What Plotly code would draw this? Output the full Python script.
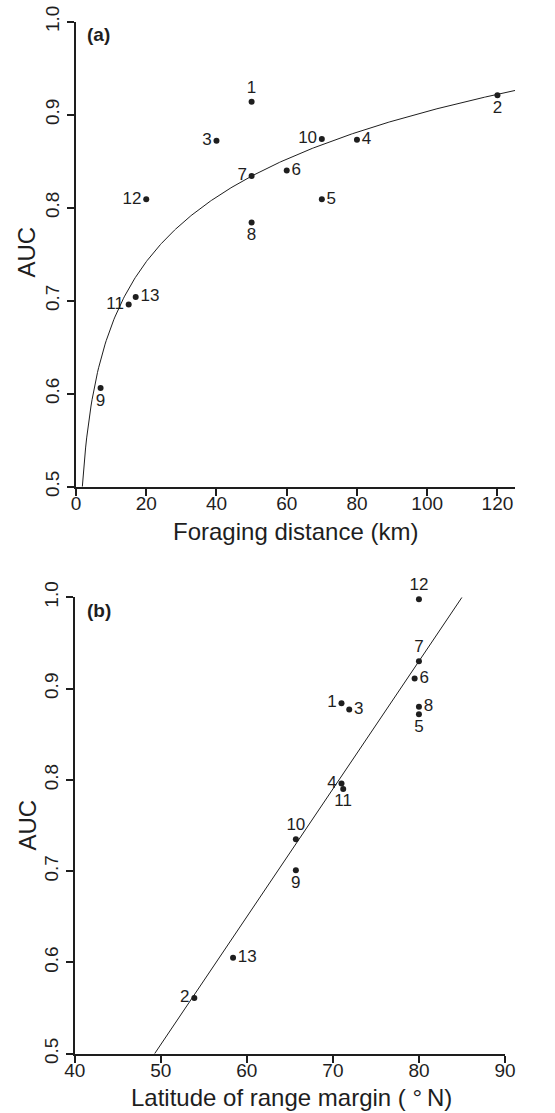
import numpy as np
import plotly.graph_objects as go

# ---------------- data ----------------
species = [str(i) for i in range(1, 14)]

# panel (a): foraging distance (km) vs AUC
foraging_km = [50, 120, 40, 80, 70, 60, 50, 50, 7, 70, 15, 20, 17]
auc_a = [0.914, 0.921, 0.872, 0.873, 0.809, 0.840, 0.834, 0.784, 0.606,
         0.874, 0.696, 0.809, 0.704]
pos_a = ["top center", "bottom center", "middle left", "middle right",
         "middle right", "middle right", "middle left", "bottom center",
         "bottom center", "middle left", "middle left", "middle left",
         "middle right"]

# panel (b): latitude of range margin (deg N) vs AUC
latitude_n = [71.0, 53.9, 71.9, 71.0, 80.0, 79.5, 80.0, 80.0, 65.7, 65.7,
              71.2, 80.0, 58.4]
auc_b = [0.884, 0.561, 0.877, 0.796, 0.872, 0.911, 0.930, 0.880, 0.701,
         0.735, 0.790, 0.998, 0.605]
pos_b = ["middle left", "middle left", "middle right", "middle left",
         "bottom center", "middle right", "top center", "middle right",
         "bottom center", "top center", "bottom center", "top center",
         "middle right"]

# fitted models
log_a, log_b = 0.4408, 0.1005      # AUC = a + b*ln(distance)
lin_a, lin_b = -0.190, 0.014       # AUC = a + b*latitude

x_ticks_a = [0, 20, 40, 60, 80, 100, 120]
x_ticks_b = [40, 50, 60, 70, 80, 90]
y_ticks = [0.5, 0.6, 0.7, 0.8, 0.9, 1.0]

# ---------------- layout helpers ----------------
W, H = 555, 1113
FONT = "Liberation Sans, Arial, Helvetica, sans-serif"
INK = "#1e1e1e"


def px_x(p):
    return p / W


def px_y(p):
    return 1 - p / H


fig = go.Figure()

# panel (a) fitted curve
xa_curve = np.linspace(np.exp((0.5 - log_a) / log_b), 125, 400)
fig.add_trace(go.Scatter(x=xa_curve, y=log_a + log_b * np.log(xa_curve),
                         mode="lines", line=dict(color=INK, width=1),
                         xaxis="x", yaxis="y", hoverinfo="skip",
                         showlegend=False))
fig.add_trace(go.Scatter(x=foraging_km, y=auc_a, mode="markers+text",
                         text=species, textposition=pos_a,
                         textfont=dict(family=FONT, size=17, color=INK),
                         marker=dict(size=6, color=INK), cliponaxis=False,
                         xaxis="x", yaxis="y", showlegend=False))

# panel (b) regression line
xb_line = np.array([(0.5 - lin_a) / lin_b, (1.0 - lin_a) / lin_b])
fig.add_trace(go.Scatter(x=xb_line, y=lin_a + lin_b * xb_line,
                         mode="lines", line=dict(color=INK, width=1),
                         xaxis="x2", yaxis="y2", hoverinfo="skip",
                         showlegend=False))
fig.add_trace(go.Scatter(x=latitude_n, y=auc_b, mode="markers+text",
                         text=species, textposition=pos_b,
                         textfont=dict(family=FONT, size=17, color=INK),
                         marker=dict(size=6, color=INK), cliponaxis=False,
                         xaxis="x2", yaxis="y2", showlegend=False))

axis_common = dict(showline=True, linewidth=2, linecolor=INK,
                   showgrid=False, zeroline=False, ticks="outside",
                   ticklen=7, tickwidth=1.5, tickcolor=INK,
                   tickfont=dict(family=FONT, size=19, color=INK),
                   automargin=False, mirror=False)

fig.update_layout(
    width=W, height=H,
    margin=dict(l=0, r=0, t=0, b=0),
    paper_bgcolor="white", plot_bgcolor="white",
    font=dict(family=FONT, color=INK),
    xaxis=dict(axis_common, domain=[px_x(76), px_x(515)], range=[0, 125],
               tickvals=x_ticks_a, anchor="y", ticklabelstandoff=-9),
    yaxis=dict(axis_common, domain=[px_y(486.7), px_y(21.7)],
               range=[0.5, 1.0], tickvals=y_ticks, tickformat=".1f",
               tickangle=-90, anchor="x"),
    xaxis2=dict(axis_common, domain=[px_x(74.7), px_x(505)], range=[40, 90],
                tickvals=x_ticks_b, anchor="y2", ticklabelstandoff=-9),
    yaxis2=dict(axis_common, domain=[px_y(1053.7), px_y(597.3)],
                range=[0.5, 1.0], tickvals=y_ticks, tickformat=".1f",
                tickangle=-90, anchor="x2"),
)

annotations = [
    # panel labels
    dict(text="<b>(a)</b>", x=px_x(85), y=px_y(22), xanchor="left",
         yanchor="top", font=dict(size=19)),
    dict(text="<b>(b)</b>", x=px_x(85), y=px_y(598), xanchor="left",
         yanchor="top", font=dict(size=19)),
    # axis titles
    dict(text="Foraging distance (km)", x=px_x(295), y=px_y(531),
         xanchor="center", yanchor="middle", font=dict(size=24)),
    dict(text="AUC", x=px_x(26.5), y=px_y(252), textangle=-90,
         xanchor="center", yanchor="middle", font=dict(size=24)),
    dict(text="Latitude of range margin ( °\u2009N)", x=px_x(291),
         y=px_y(1097), xanchor="center", yanchor="middle",
         font=dict(size=24)),
    dict(text="AUC", x=px_x(26.5), y=px_y(825), textangle=-90,
         xanchor="center", yanchor="middle", font=dict(size=24)),
]
for a in annotations:
    a.update(xref="paper", yref="paper", showarrow=False)
    a["font"].update(family=FONT, color=INK)
fig.update_layout(annotations=annotations)

fig.write_html(
    "out.html",
    config={"displayModeBar": False},
    post_script="document.body.style.margin='0';"
                "document.body.style.overflow='hidden';",
)
